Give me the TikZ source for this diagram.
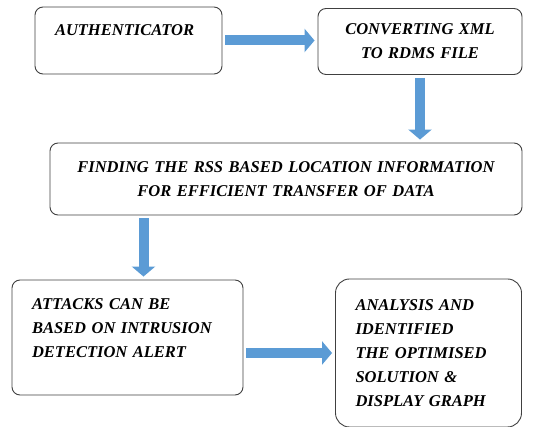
\documentclass[tikz,border=0pt]{standalone}
\usepackage{fontspec}
\setmainfont{LiberationSerif}[
    Extension=.ttf,
    UprightFont=*-Regular,
    BoldFont=*-Bold,
    ItalicFont=*-Italic,
    BoldItalicFont=*-BoldItalic
]
\usetikzlibrary{arrows.meta}

\definecolor{arrowblue}{HTML}{5B9BD5}
\newcommand\stagefont{\fontsize{16.5}{24}\selectfont\bfseries\itshape}

\begin{document}
\begin{tikzpicture}[
    x=1pt,
    y=-1pt,
    stage/.style={
        draw=black!75,
        rounded corners=8pt,
        line width=0.9pt,
        fill=white,
        inner xsep=20pt,
        inner ysep=0pt,
        font=\stagefont
    },
    flow/.style={
        line width=10pt,
        draw=arrowblue,
        -{Triangle[length=10pt, width=23pt]},
        shorten <=3pt,
        shorten >=3pt
    }
]

\useasboundingbox (0,0) rectangle (558,427);

\node[stage, align=left, text width=147pt, minimum height=67pt] (auth) at (128.5,40.5)
    {AUTHENTICATOR\\[-4pt] \mbox{}};
\node[stage, align=center, text width=164pt, minimum height=66pt] (convert) at (420,41.5)
    {CONVERTING XML\\TO RDMS FILE};
\node[stage, align=center, text width=432pt, minimum height=72pt] (rss) at (286,179)
    {FINDING THE RSS BASED LOCATION INFORMATION\\FOR EFFICIENT TRANSFER OF DATA};
\node[stage, align=left, text width=191pt, minimum height=115pt] (attack) at (127.5,337.5)
    {ATTACKS CAN BE\\BASED ON INTRUSION\\DETECTION ALERT\\[-6pt] \mbox{}};
\node[stage, rounded corners=14pt, align=left, text width=146pt, minimum height=148pt] (result) at (428.5,353)
    {ANALYSIS AND\\IDENTIFIED\\THE OPTIMISED\\SOLUTION \&\\DISPLAY GRAPH};

\draw[flow] (auth.east) -- (auth.east -| convert.west);
\draw[flow] (convert.south) -- (convert.south |- rss.north);
\draw[flow] ([xshift=16pt]attack.north |- rss.south) -- ([xshift=16pt]attack.north);
\draw[flow] (attack.east |- result.west) -- (result.west);

\end{tikzpicture}
\end{document}
